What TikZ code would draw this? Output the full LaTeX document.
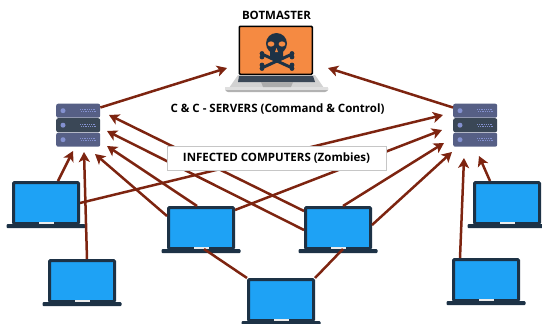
\documentclass[tikz,border=0pt]{standalone}
\usepackage{fontspec}
\setmainfont{Open Sans}
\usetikzlibrary{arrows.meta}
\definecolor{navy}{HTML}{1D3246}
\definecolor{sky}{HTML}{1EA2F5}
\definecolor{brick}{HTML}{7D2410}
\definecolor{tang}{HTML}{F58A42}
\definecolor{srv}{HTML}{565F85}
\definecolor{srvd}{HTML}{3A4756}
\definecolor{srvl}{HTML}{8491D0}
\tikzset{
  screen/.style={draw=navy,fill=sky,line width=3pt,rounded corners=1pt,minimum width=65pt,minimum height=41pt,inner sep=0pt},
  lapbase/.style={fill=navy,rounded corners=1pt,minimum width=79pt,minimum height=4pt,inner sep=0pt},
  notch/.style={fill=white!92!black,minimum width=15pt,minimum height=1.5pt,inner sep=0pt},
  bar/.style={fill=srv,rounded corners=2pt,minimum width=44pt,minimum height=14pt,inner sep=0pt},
  conn/.style={draw=brick,line width=2.5pt},
  arr/.style={conn,-{Stealth[length=10pt,width=11pt,inset=2.5pt]}},
  lbl/.style={text=black,inner sep=0pt,font=\bfseries\fontsize{11.5}{13}\selectfont},
}
\newcommand{\laptop}[3]{%
  \node[screen,anchor=north west] (#1) at (#2,#3) {};
  \node[lapbase,anchor=north] (#1b) at ([yshift=1pt]#1.south) {};
  \node[notch] (#1n) at ([yshift=1pt]#1b.north) {};
}
\newcommand{\serverunit}[3]{%
  \node[bar,anchor=north west] (#1a) at (#2,#3) {};
  \node[bar,anchor=north west,fill=srvd] (#1b) at (#2,#3+14.5) {};
  \node[bar,anchor=north west] (#1c) at (#2,#3+29) {};
  \foreach \k in {a,b,c}{
    \fill[srvl] ([xshift=7pt]#1\k.west) circle (2.5pt);
    \draw[srvl,line width=.9pt,dash pattern=on .9pt off .9pt] ([xshift=24pt,yshift=.9pt]#1\k.west) -- ([xshift=39pt,yshift=.9pt]#1\k.west);
    \draw[srvl,line width=.9pt,dash pattern=on .9pt off .9pt] ([xshift=25pt,yshift=-.9pt]#1\k.west) -- ([xshift=40pt,yshift=-.9pt]#1\k.west);
  }
}
\begin{document}
\begin{tikzpicture}[x=1pt,y=-1pt]
\useasboundingbox (0,0) rectangle (542,324);
% botmaster laptop
\fill[gray!35] (238,75) -- (315,75) -- (324,88) -- (229,88) -- cycle;
\fill[gray!60] (225,88) -- (328,88) -- (328,90) [rounded corners=1pt] -- (326,92) -- (227,92) -- (225,90) -- cycle;
\fill[gray!25] (225,87) rectangle (328,89.5);
\node[draw=black,fill=tang,line width=1.6pt,rounded corners=1pt,anchor=north west,minimum width=73pt,minimum height=48pt,inner sep=0pt] (boss) at (238.5,25.5) {};
\fill[srvd] (239,76) -- (313,76) -- (315,82) -- (238,82) -- cycle;
\fill[gray!65] (261,82) -- (293,82) -- (291,87) -- (263,87) -- cycle;
% skull
\draw[navy,line width=3pt,line cap=round] (264,55) -- (290,67);
\draw[navy,line width=3pt,line cap=round] (264,67) -- (290,55);
\foreach \p in {(262,53.5),(262,57),(292,53.5),(292,57),(262,65),(262,68.5),(292,65),(292,68.5)}
  \fill[navy] \p circle (2.4pt);
\fill[navy] (276.5,43.5) circle (10.5pt);
\fill[navy,rounded corners=1pt] (270,48) rectangle (283,59.5);
\fill[tang] (271,44) ellipse (3.4pt and 2.6pt);
\fill[tang] (282,44) ellipse (3.4pt and 2.6pt);
\fill[tang] (276.5,48) -- (278,52) -- (275,52) -- cycle;
% labels
\node[lbl] (title) at (276.5,15) {BOTMASTER};
\node[lbl] (cc) at (277.5,109) {C \& C - SERVERS (Command \& Control)};
% servers
\serverunit{A}{56}{103.5}
\serverunit{B}{453}{103.5}
% laptops
\laptop{L1}{12}{181}
\laptop{L2}{48}{259}
\laptop{L3}{167}{206}
\laptop{L4}{304}{206}
\laptop{L5}{247}{278}
\laptop{L6}{473}{181}
\laptop{L7}{452}{258}
% free arrow tips
\coordinate (bossL) at (227,68);
\coordinate (bossR) at (328,68);
\coordinate (a1) at (73,151);
\coordinate (a2) at (84,152);
\coordinate (a3) at (95,154);
\coordinate (a4) at (107,146);
\coordinate (a5) at (107,131);
\coordinate (a6) at (109,115);
\coordinate (b1) at (443,115);
\coordinate (b2) at (442,130);
\coordinate (b3) at (444,143);
\coordinate (b4) at (452,152);
\coordinate (b5) at (464,158);
\coordinate (b6) at (479,156);
% connectors
\draw[arr] (Aa.north east) ++(0,4) -- (bossL);
\draw[arr] (Ba.north west) ++(0,4) -- (bossR);
\draw[arr] (L1.north west) ++(46,0) -- (a1);
\draw[arr] (L2.north west) ++(39,0) -- (a2);
\draw[arr] (L3.north west) ++(0,10) -- (a3);
\draw[arr] (L3.north west) ++(30,0) -- (a4);
\draw[arr] (L4.north west) ++(0,24) -- (a5);
\draw[arr] (L4.north west) ++(0,5) -- (a6);
\draw[arr] (L1.north east) ++(0,22) -- (b1);
\draw[arr] (L3.north east) ++(0,4) -- (b2);
\draw[arr] (L4.north west) ++(39,0) -- (b3);
\draw[arr] (L4.north east) ++(0,19) -- (b4);
\draw[arr] (L7.north west) ++(8,0) -- (b5);
\draw[arr] (L6.north west) ++(17,0) -- (b6);
\draw[conn] (L3b.north) ++(3,0) -- (L5.north west);
\draw[conn] (L4b.north) ++(5,0) -- (L5.north east);
% caption box
\node[draw=gray!45,fill=white,line width=.8pt,minimum width=219pt,minimum height=24pt,inner sep=0pt,font=\bfseries\fontsize{11.5}{13}\selectfont] (zomb) at (276.5,158) {INFECTED COMPUTERS (Zombies)};
\end{tikzpicture}
\end{document}
